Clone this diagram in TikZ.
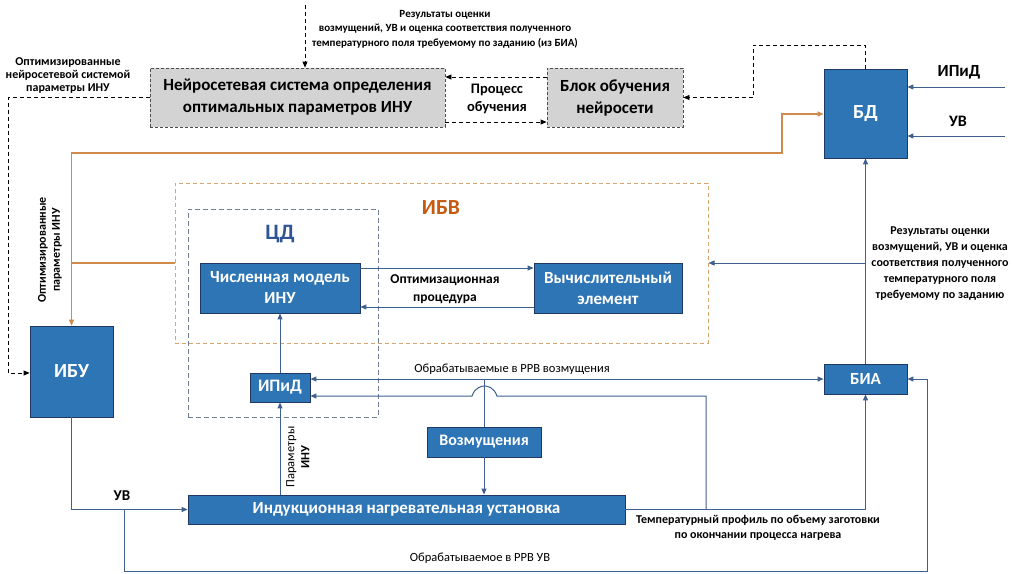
\documentclass[tikz,border=0pt]{standalone}
\usepackage{fontspec}
\setmainfont{Carlito}
\usetikzlibrary{arrows.meta,calc}
\definecolor{boxblue}{HTML}{2E75B6}
\definecolor{boxedge}{HTML}{1F3864}
\definecolor{lineblue}{HTML}{3F5F8C}
\definecolor{orng}{HTML}{D08A4C}
\definecolor{orbox}{HTML}{D9A36E}
\definecolor{ibvtxt}{HTML}{C55A11}
\definecolor{cdtxt}{HTML}{2F5597}
\definecolor{cdedge}{HTML}{6F7F96}
\definecolor{graybox}{HTML}{D3D3D3}
\begin{document}
\begin{tikzpicture}[x=1pt,y=-1pt,
  bbox/.style={draw=boxedge, line width=0.8pt, fill=boxblue, text=white, font=\bfseries\fontsize{17}{21}\selectfont, align=center, inner sep=0pt},
  gbox/.style={draw=black!70, line width=0.8pt, dash pattern=on 3pt off 2pt, fill=graybox, text=black, font=\bfseries\fontsize{17}{22}\selectfont, align=center, inner sep=0pt},
  arr/.style={draw=lineblue, line width=1pt, -{Triangle[length=6pt,width=5pt]}},
  ln/.style={draw=lineblue, line width=1pt},
  darr/.style={draw=black, line width=0.8pt, dash pattern=on 4pt off 3pt, -{Triangle[length=6pt,width=5pt]}},
  oarr/.style={draw=orng, line width=1.1pt, -{Triangle[length=6pt,width=5pt]}},
  lbl/.style={font=\bfseries\fontsize{12}{15}\selectfont, align=center, inner sep=0pt},
  rlbl/.style={font=\fontsize{12.5}{15}\selectfont, align=center, inner sep=0pt},
]
\useasboundingbox (0,0) rectangle (1012,573);

% containers
\node[draw=orbox, line width=1pt, dash pattern=on 4pt off 3pt, minimum width=533pt, minimum height=160pt, inner sep=0pt] (ibv) at (441.5,263) {};
\node[draw=cdedge, line width=0.9pt, dash pattern=on 5pt off 3pt, minimum width=190pt, minimum height=208pt, inner sep=0pt] (cd) at (283,313) {};
\node[font=\bfseries\fontsize{21.5}{22}\selectfont, text=ibvtxt] (ibvl) at (441,208) {ИБВ};
\node[font=\bfseries\fontsize{22}{22}\selectfont, text=cdtxt] (cdl) at (280,234) {ЦД};

% boxes
\node[gbox, minimum width=295pt, minimum height=59pt] (nn) at (297.5,97.5) {Нейросетевая система определения\\оптимальных параметров ИНУ};
\node[gbox, minimum width=136pt, minimum height=59pt] (learn) at (615,97.5) {Блок обучения\\нейросети};
\node[bbox, minimum width=83pt, minimum height=89pt, font=\bfseries\fontsize{20}{22}\selectfont] (bd) at (865.5,113.5) {БД};
\node[bbox, minimum width=83pt, minimum height=91pt, font=\bfseries\fontsize{20}{22}\selectfont] (ibu) at (71.5,371.5) {ИБУ};
\node[bbox, minimum width=160pt, minimum height=50pt] (chm) at (280,288) {Численная модель\\ИНУ};
\node[bbox, minimum width=148pt, minimum height=50pt] (vych) at (608,288) {Вычислительный\\элемент};
\node[bbox, minimum width=83pt, minimum height=30pt] (bia) at (865.5,379) {БИА};
\node[bbox, minimum width=60pt, minimum height=29pt, font=\bfseries\fontsize{17.5}{21}\selectfont] (ipid) at (280,387.5) {ИПиД};
\node[bbox, minimum width=114pt, minimum height=30pt, font=\bfseries\fontsize{16}{21}\selectfont] (voz) at (484,442) {Возмущения};
\node[bbox, minimum width=437pt, minimum height=29pt] (inu) at (406.5,509.5) {Индукционная нагревательная установка};

% top dashed connectors
\coordinate (topin) at (305,5);
\draw[darr] (topin) -- (topin|-nn.north);
\draw[darr] ([yshift=20.5pt]learn.west) -- ([yshift=20.5pt]nn.east);
\draw[darr] ([yshift=-24.5pt]nn.east) -- ([yshift=-24.5pt]learn.west);
\coordinate (bdturn) at (753,45);
\draw[darr] (bd.north) |- (bdturn) |- (learn.east);
\coordinate (lturn) at (8,97.5);
\draw[darr] (nn.west) -- (lturn) |- (ibu.west|-0,373);

% inputs to BD
\coordinate (in1) at (1005,87);
\coordinate (in2) at (1005,136);
\draw[arr] (in1) -- (bd.east|-in1);
\draw[arr] (in2) -- (bd.east|-in2);

% orange
\coordinate (oj) at (ibu.north|-0,263);
\coordinate (ot) at (782,153);
\draw[oarr] (ibv.west|-oj) -- (oj) |- (ot) |- (bd.west|-0,114);
\draw[oarr] (oj) -- (ibu.north);

% chm <-> vych
\draw[arr] ([yshift=20pt]chm.east) -- ([yshift=20pt]vych.west);
\draw[arr] ([yshift=-19pt]vych.west) -- ([yshift=-19pt]chm.east);

% BIA -> BD, branch to IBV
\draw[arr] (bia.north) -- (bd.south);
\coordinate (rj) at (bia.north|-0,263);
\draw[arr] (rj) -- (ibv.east|-rj);

\draw[arr] (ipid.north) -- (chm.south);
\draw[arr] (inu.north-|ipid.south) -- (ipid.south);

% disturbances
\coordinate (vj) at (voz.north|-0,379);
\draw[ln] (voz.north) -- (vj);
\draw[arr] (vj) -- ([yshift=8.5pt]ipid.east);
\draw[arr] (vj) -- (bia.west);
\draw[arr] (voz.south) -- (voz.south|-inu.north);

% temperature profile
\draw[arr] (inu.east) -| (bia.south);
\coordinate (tj) at (706,509.5);
\draw[arr] (tj) -- (706,396) -- (497,396) .. controls (494,387) and (487,386) .. (484.5,386) .. controls (482,386) and (475,387) .. (472,396) -- ([yshift=-8.5pt]ipid.east);

% UV
\draw[arr] (ibu.south) |- (inu.west);
\coordinate (uj) at (124,509.5);
\coordinate (bl) at (927,571.5);
\draw[arr] (uj) |- (bl) |- (bia.east);

% labels
\node[lbl, font=\bfseries\fontsize{11}{14.5}\selectfont] (t1) at (445,29) {Результаты оценки\\возмущений, УВ и оценка соответствия полученного\\температурного поля требуемому по заданию (из БИА)};
\node[lbl, font=\bfseries\fontsize{12}{13}\selectfont] (t2) at (68,76) {Оптимизированные\\нейросетевой системой\\параметры ИНУ};
\node[lbl, font=\bfseries\fontsize{14.5}{18}\selectfont] (t3) at (497,99) {Процесс\\обучения};
\node[lbl, font=\bfseries\fontsize{17}{18}\selectfont] (t4) at (959,72) {ИПиД};
\node[lbl, font=\bfseries\fontsize{16}{18}\selectfont] (t5) at (958,121) {УВ};
\node[lbl, rotate=90, font=\bfseries\fontsize{12}{14}\selectfont] (t6) at (50,250) {Оптимизированные\\параметры ИНУ};
\node[lbl, font=\bfseries\fontsize{13.5}{18}\selectfont] (t7) at (445,289) {Оптимизационная\\процедура};
\node[lbl, font=\bfseries\fontsize{12}{16}\selectfont] (t8) at (940,264) {Результаты оценки\\возмущений, УВ и оценка\\соответствия полученного\\температурного поля\\требуемому по заданию};
\node[rlbl] (t9) at (512,369) {Обрабатываемые в РРВ возмущения};
\node[rlbl, rotate=90] (t10) at (298,457) {Параметры\\\textbf{ИНУ}};
\node[lbl, font=\bfseries\fontsize{15}{16}\selectfont] (t11) at (122,496) {УВ};
\node[lbl, font=\bfseries\fontsize{12}{15}\selectfont] (t12) at (758,528) {Температурный профиль по объему заготовки\\по окончании процесса нагрева};
\node[rlbl] (t13) at (480,558) {Обрабатываемое в РРВ УВ};
\end{tikzpicture}
\end{document}
